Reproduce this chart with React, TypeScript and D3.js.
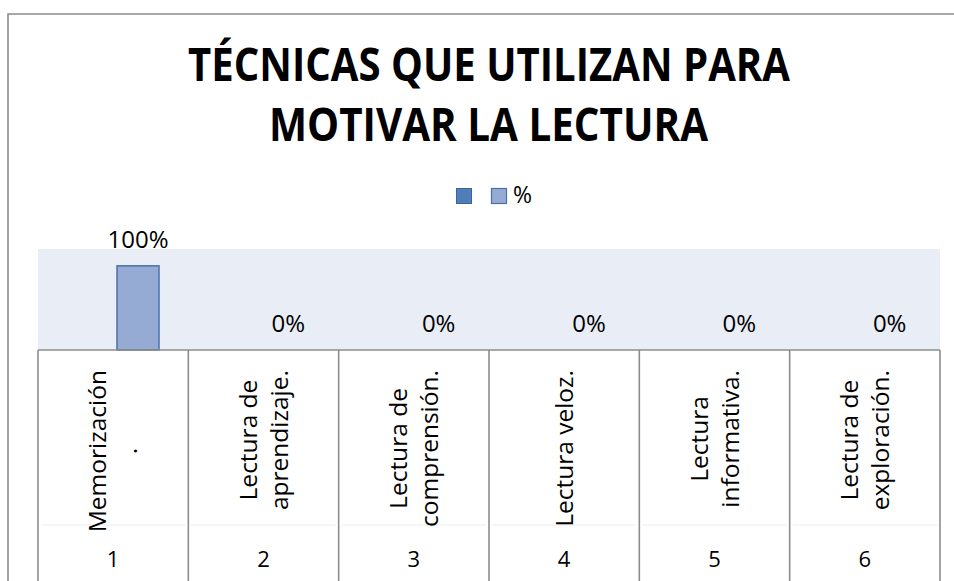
import React from "react";
import * as d3 from "d3";

const categories = ["1", "2", "3", "4", "5", "6"];
const categoryLabels: string[][] = [
  ["Memorización", "."],
  ["Lectura de", "aprendizaje."],
  ["Lectura de", "comprensión."],
  ["Lectura veloz."],
  ["Lectura", "informativa."],
  ["Lectura de", "exploración."],
];
const seriesNames = ["", "%"];
const seriesBlank = [0, 0, 0, 0, 0, 0];
const seriesPct = [1, 0, 0, 0, 0, 0];
const yTicks = [0, 1.2];
const titleLines = ["TÉCNICAS QUE UTILIZAN PARA", "MOTIVAR LA LECTURA"];

const W = 954;
const H = 581;
const plot = { left: 38, right: 940, top: 249, bottom: 350 };
const FONT = "'Open Sans', 'DejaVu Sans', sans-serif";

let ctx: CanvasRenderingContext2D | null = null;
function measure(text: string, size: number): number {
  if (typeof document === "undefined") return text.length * size * 0.47;
  if (!ctx) ctx = document.createElement("canvas").getContext("2d");
  if (!ctx) return text.length * size * 0.47;
  ctx.font = `${size}px 'Open Sans', 'DejaVu Sans', sans-serif`;
  return ctx.measureText(text).width;
}

export default function App() {
  const x = d3.scaleBand<string>().domain(categories).range([plot.left, plot.right]).padding(0);
  const inner = d3.scaleBand<string>().domain(seriesNames).range([37, 121]).padding(0);
  const y = d3.scaleLinear().domain([yTicks[0], yTicks[1]]).range([plot.bottom, plot.top]);
  const fmt = d3.format(".0%");
  const bw = x.bandwidth();
  const series = [
    { name: seriesNames[0], values: seriesBlank, fill: "#4F7EB8", stroke: "#3D6599", labels: false },
    { name: seriesNames[1], values: seriesPct, fill: "#96ABD4", stroke: "#4A71A8", labels: true },
  ];
  const lineGap = 31;
  const labelSize = 24.5;

  return (
    <svg width={W} height={H} style={{ position: "absolute", left: 0, top: 0, background: "#fff" }}>
      <rect x={0} y={0} width={W} height={H} fill="#fff" />
      <path d={`M8,${H} L8,14 L${W},14`} fill="none" stroke="#8c8c8c" strokeWidth={1.6} />
      {titleLines.map((t, i) => (
        <text
          key={i}
          x={i === 0 ? 188 : 269}
          y={81 + i * 60}
          textLength={i === 0 ? 602 : 439}
          lengthAdjust="spacingAndGlyphs"
          fontFamily={FONT}
          fontWeight={700}
          fontSize={46}
          fill="#000"
        >
          {t}
        </text>
      ))}
      <rect x={456.5} y={188.5} width={15} height={15} fill={series[0].fill} stroke={series[0].stroke} strokeWidth={1} />
      <rect x={491.5} y={188.5} width={15} height={15} fill={series[1].fill} stroke={series[1].stroke} strokeWidth={1.2} />
      <text x={513} y={203} fontFamily={FONT} fontSize={23} fill="#000">%</text>
      <rect x={plot.left} y={plot.top} width={plot.right - plot.left} height={plot.bottom - plot.top} fill="#E9EDF5" />
      {series.map((s) =>
        s.values.map((v, i) => {
          const bx = (x(categories[i]) as number) + (inner(s.name) as number);
          const top = y(v);
          const h = plot.bottom - top;
          return h > 0 ? (
            <rect key={s.name + i} x={bx} y={top} width={inner.bandwidth()} height={h} fill={s.fill} stroke={s.stroke} strokeWidth={1.5} />
          ) : null;
        })
      )}
      {series
        .filter((s) => s.labels)
        .map((s) =>
          s.values.map((v, i) => {
            const cx = (x(categories[i]) as number) + (inner(s.name) as number) + inner.bandwidth() / 2;
            return (
              <text key={"l" + i} x={cx} y={y(v) - 18} textAnchor="middle" fontFamily={FONT} fontSize={24} fill="#000">
                {fmt(v)}
              </text>
            );
          })
        )}
      <line x1={plot.left} x2={plot.right} y1={plot.bottom} y2={plot.bottom} stroke="#8c8c8c" strokeWidth={1.6} />
      {d3.range(categories.length + 1).map((i) => {
        const lx = plot.left + i * bw;
        return <line key={"v" + i} x1={lx} x2={lx} y1={plot.bottom} y2={H} stroke="#8c8c8c" strokeWidth={1.6} />;
      })}
      {categories.map((c, i) => {
        const lx = (x(c) as number) + 3;
        return <line key={"h" + i} x1={lx} x2={lx + bw - 6} y1={525} y2={525} stroke="#ececec" strokeWidth={1} />;
      })}
      {categories.map((c, i) => {
        const cx = (x(c) as number) + bw / 2;
        const lines = categoryLabels[i];
        const n = lines.length;
        const maxLen = Math.max(...lines.map((l) => measure(l, labelSize)));
        let cy = 434;
        if (cy - maxLen / 2 < 370) cy = 370 + maxLen / 2;
        return lines.map((ln, j) => (
          <text
            key={c + j}
            transform={`translate(${cx + (j - (n - 1) / 2) * lineGap},${cy}) rotate(-90)`}
            dy="0.36em"
            textAnchor="middle"
            fontFamily={FONT}
            fontSize={labelSize}
            fill="#000"
          >
            {ln}
          </text>
        ));
      })}
      {categories.map((c) => (
        <text key={"n" + c} x={(x(c) as number) + bw / 2} y={567} textAnchor="middle" fontFamily={FONT} fontSize={22} fill="#000">
          {c}
        </text>
      ))}
    </svg>
  );
}
